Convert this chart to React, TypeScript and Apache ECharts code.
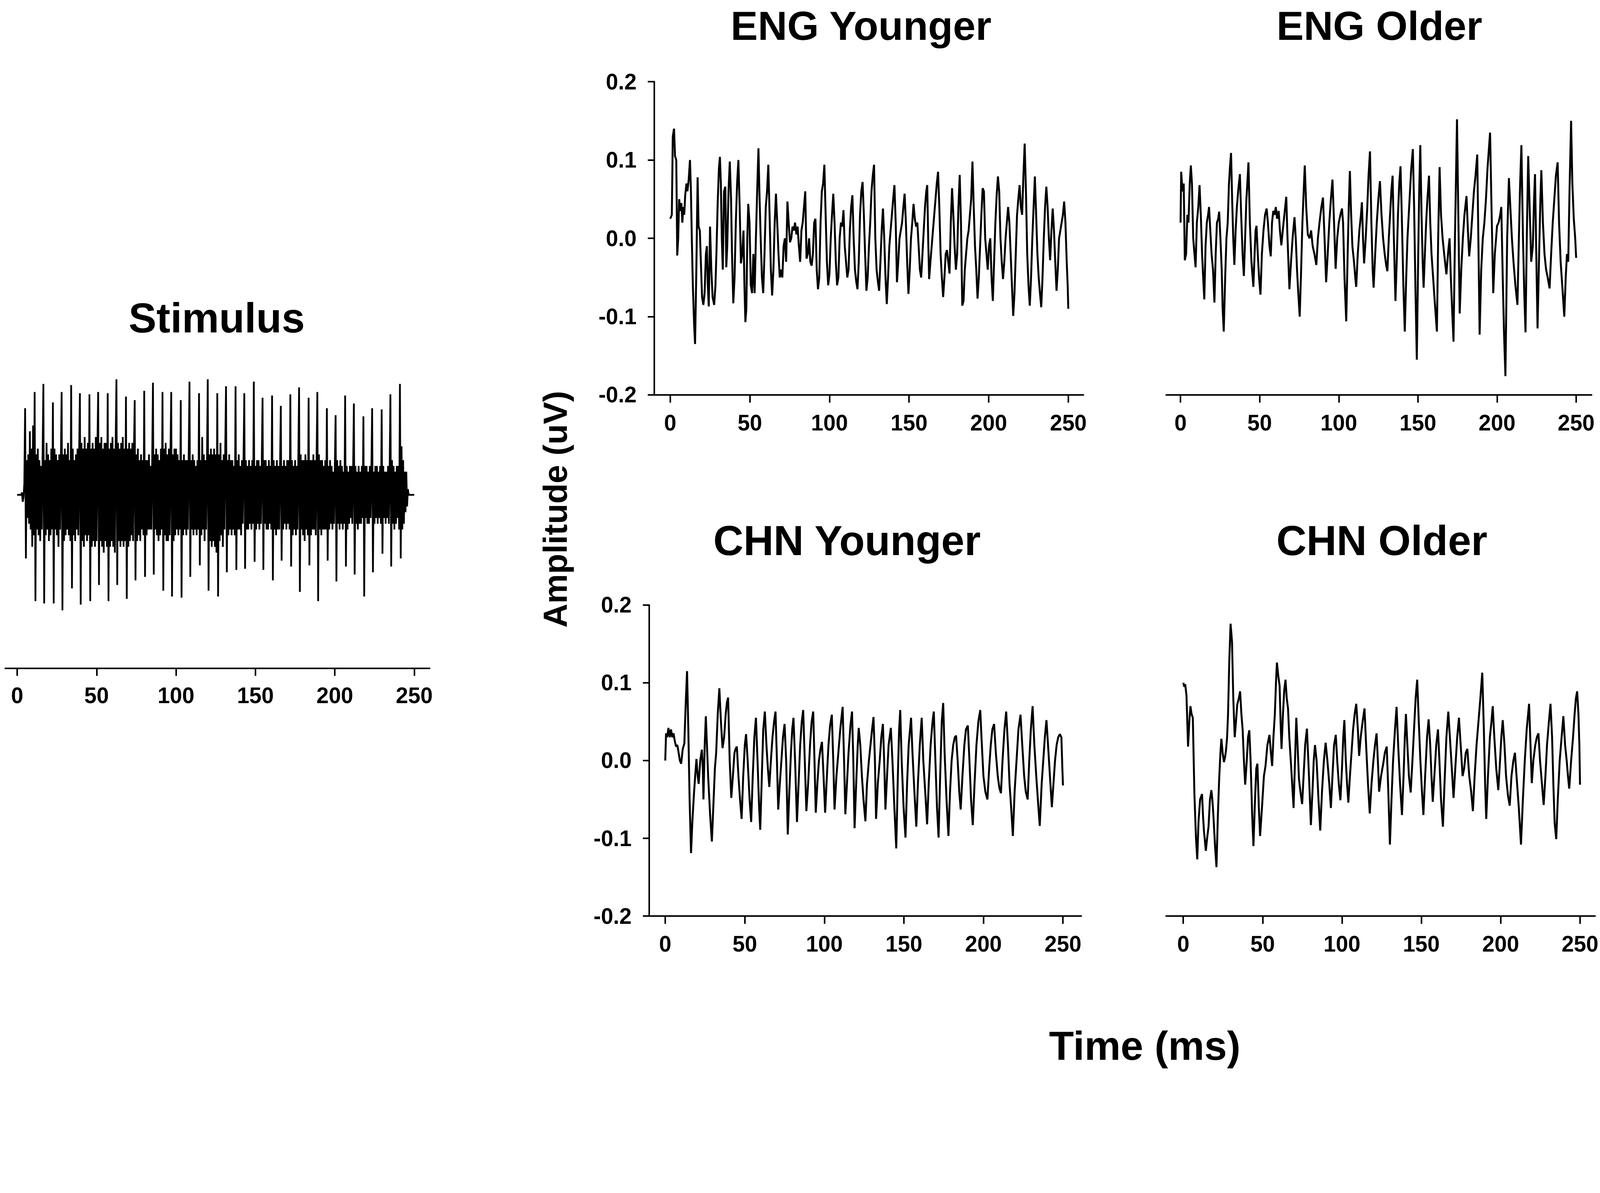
import React, { useEffect, useRef } from "react";
import * as echarts from "echarts";

// reference canvas size (all layout numbers below are in this space and scaled to the viewport)
const W = 4562;
const H = 3054;

// ---------- tick labels ----------
const xTicks = [0, 50, 100, 150, 200, 250];

// ---------- titles ----------
const panelTitles = ["Stimulus", "ENG Younger", "ENG Older", "CHN Younger", "CHN Older"];
const yAxisName = "Amplitude (uV)";
const xAxisName = "Time (ms)";

// ---------- stimulus (normalised amplitude, sampled every 0.5 ms) ----------
const stimulusStepMs = 0.5;
const stimulusValues = [
  0, 0, 0, 0, 0, 0, 0.02, -0.06, -0.02, 0.1,
  0.75, -0.55, 0.3, -0.2, 0.35, -0.25, 0.55, -0.3, 0.4, -0.45, 0.6, -0.35,
  0.89, -0.92, 0.35, -0.3, 0.4, -0.35, 0.3, -0.4, 0.25, -0.3, 0.35,
  0.96, -0.94, 0.3, -0.35, 0.45, -0.3, 0.35, -0.4, 0.3, -0.35, 0.4, -0.3,
  0.8, -0.94, 0.4, -0.3, 0.35, -0.35, 0.3, -0.45, 0.35, -0.3, 0.3,
  0.89, -1.0, 0.35, -0.4, 0.4, -0.35, 0.35, -0.3, 0.45, -0.35, 0.3, -0.4,
  0.95, -0.81, 0.4, -0.35, 0.3, -0.4, 0.35, -0.3, 0.4, -0.35, 0.35,
  0.88, -0.95, 0.45, -0.4, 0.4, -0.45, 0.5, -0.35, 0.4, -0.4, 0.45, -0.35,
  0.87, -0.92, 0.4, -0.45, 0.45, -0.4, 0.4, -0.45, 0.5, -0.4, 0.4,
  0.89, -0.78, 0.45, -0.4, 0.5, -0.45, 0.4, -0.5, 0.45, -0.4, 0.45, -0.45,
  0.88, -0.92, 0.4, -0.45, 0.45, -0.4, 0.5, -0.45, 0.4, -0.5, 0.45,
  1.0, -0.78, 0.45, -0.4, 0.4, -0.45, 0.45, -0.4, 0.5, -0.45, 0.4, -0.4,
  0.85, -0.9, 0.4, -0.45, 0.45, -0.4, 0.4, -0.35, 0.45, -0.4, 0.35,
  0.82, -0.74, 0.35, -0.4, 0.4, -0.35, 0.3, -0.4, 0.35, -0.3, 0.3, -0.35,
  0.9, -0.71, 0.3, -0.35, 0.3, -0.3, 0.35, -0.3, 0.25, -0.3, 0.3,
  0.97, -0.69, 0.35, -0.3, 0.4, -0.35, 0.35, -0.4, 0.3, -0.35, 0.4, -0.3,
  0.89, -0.83, 0.4, -0.35, 0.45, -0.4, 0.35, -0.4, 0.4, -0.35, 0.35,
  0.89, -0.88, 0.35, -0.4, 0.4, -0.35, 0.4, -0.3, 0.35, -0.35, 0.3, -0.3,
  0.82, -0.89, 0.3, -0.35, 0.35, -0.3, 0.3, -0.35, 0.3, -0.3, 0.35,
  0.98, -0.71, 0.3, -0.3, 0.35, -0.35, 0.3, -0.3, 0.25, -0.35, 0.3, -0.3,
  0.88, -0.61, 0.3, -0.35, 0.5, -0.3, 0.35, -0.4, 0.3, -0.3, 0.3,
  1.0, -0.83, 0.35, -0.4, 0.4, -0.45, 0.35, -0.4, 0.4, -0.45, 0.35, -0.5,
  0.88, -0.88, 0.35, -0.4, 0.45, -0.35, 0.3, -0.45, 0.35, -0.3, 0.4,
  0.94, -0.67, 0.3, -0.35, 0.35, -0.3, 0.3, -0.35, 0.3, -0.3, 0.25, -0.35,
  0.94, -0.65, 0.3, -0.3, 0.35, -0.3, 0.25, -0.35, 0.3, -0.25, 0.3,
  0.88, -0.64, 0.3, -0.3, 0.25, -0.3, 0.3, -0.25, 0.25, -0.3, 0.3, -0.25,
  0.98, -0.58, 0.25, -0.3, 0.3, -0.25, 0.3, -0.3, 0.25, -0.25, 0.3,
  0.84, -0.65, 0.3, -0.25, 0.3, -0.3, 0.25, -0.3, 0.3, -0.25, 0.25, -0.3,
  0.86, -0.74, 0.3, -0.3, 0.25, -0.35, 0.3, -0.3, 0.25, -0.3, 0.25,
  0.77, -0.57, 0.25, -0.3, 0.3, -0.25, 0.25, -0.3, 0.3, -0.25, 0.3, -0.3,
  0.87, -0.62, 0.3, -0.35, 0.25, -0.3, 0.3, -0.35, 0.25, -0.3, 0.3,
  0.93, -0.84, 0.35, -0.3, 0.3, -0.35, 0.3, -0.4, 0.35, -0.3, 0.3, -0.35,
  0.84, -0.61, 0.3, -0.35, 0.3, -0.3, 0.35, -0.3, 0.3, -0.35, 0.3,
  0.89, -0.92, 0.35, -0.3, 0.3, -0.35, 0.3, -0.3, 0.25, -0.3, 0.3, -0.3,
  0.75, -0.57, 0.25, -0.3, 0.3, -0.25, 0.25, -0.3, 0.2, -0.25, 0.25,
  0.69, -0.75, 0.3, -0.25, 0.25, -0.3, 0.3, -0.25, 0.25, -0.3, 0.2, -0.25,
  0.86, -0.62, 0.25, -0.3, 0.2, -0.25, 0.25, -0.2, 0.25, -0.25, 0.2,
  0.79, -0.69, 0.25, -0.25, 0.2, -0.3, 0.25, -0.25, 0.2, -0.25, 0.25, -0.2,
  0.68, -0.88, 0.25, -0.2, 0.25, -0.25, 0.2, -0.25, 0.25, -0.2, 0.2,
  0.75, -0.67, 0.2, -0.25, 0.25, -0.2, 0.25, -0.25, 0.2, -0.2, 0.25, -0.25,
  0.74, -0.51, 0.25, -0.2, 0.2, -0.25, 0.2, -0.2, 0.25, -0.25, 0.2,
  0.87, -0.62, 0.3, -0.25, 0.25, -0.3, 0.2, -0.25, 0.25, -0.2, 0.25, -0.3,
  0.96, -0.55, 0.42, -0.3, 0.3, -0.25, 0.2, -0.15, 0.2, -0.1, 0.05,
  0, 0, 0, 0, 0, 0, 0, 0,
];

// ---------- responses: [time ms, amplitude uV] ----------
const engYounger = [[0,0.025],[1,0.03],[1.6,0.13],[2.4,0.14],[3,0.105],[3.8,0.1],[4.4,-0.022],[5,0],[5.6,0.05],[6.4,0.035],[7,0.045],[7.6,0.02],[8.2,0.04],[8.8,0.03],[9.4,0.055],[10.2,0.07],[10.8,0.06],[11.6,0.075],[12.4,0.1],[13,0.06],[13.6,-0.005],[14.2,-0.06],[15,-0.11],[15.6,-0.135],[16.4,-0.04],[17.2,0.078],[17.8,0.015],[18.6,0.01],[19.4,-0.04],[20,-0.075],[20.8,-0.085],[21.6,-0.07],[22.4,-0.02],[23,-0.01],[23.6,-0.06],[24.2,-0.087],[25,0.015],[25.8,-0.04],[26.6,-0.075],[27.6,-0.085],[28.4,-0.06],[29,-0.02],[29.8,0.045],[30.6,0.09],[31.2,0.104],[31.8,0.07],[32.4,0],[33,-0.04],[33.8,0.06],[34.6,0.066],[35.2,-0.037],[35.8,-0.01],[36.6,0.06],[37.4,0.098],[38.2,0.05],[38.8,-0.02],[39.6,-0.083],[40.4,-0.05],[41.2,0.02],[42,0.07],[42.8,0.1],[43.6,0.04],[44.4,-0.032],[45.2,-0.02],[46,0.01],[46.6,-0.06],[47.2,-0.107],[47.8,-0.09],[48.4,0],[49,0.044],[49.8,0.02],[50.6,-0.06],[51.4,-0.07],[52.2,-0.02],[53,-0.07],[53.8,0],[54.6,0.06],[55.4,0.115],[56,0.06],[56.8,0],[57.6,-0.05],[58.4,-0.07],[59.2,-0.02],[60,0.04],[60.8,0.06],[61.6,0.094],[62.4,0.03],[63.2,-0.04],[64,-0.073],[64.8,-0.04],[65.6,0.02],[66.4,0.057],[67.2,0.02],[68,-0.02],[68.8,-0.05],[69.6,-0.04],[70.4,-0.05],[71.2,-0.01],[72,0],[72.8,-0.03],[73.6,0.047],[74.4,0.02],[75.2,-0.005],[76,0],[76.8,0.015],[77.6,0.01],[78.4,0.02],[79.2,0.005],[80,0.015],[80.8,-0.01],[81.6,-0.03],[82.4,0.01],[83.2,0.02],[84,0.04],[84.8,0.06],[85.6,-0.026],[86.4,-0.02],[87.2,0],[88,-0.03],[88.8,-0.035],[89.6,-0.02],[90.4,0.02],[91.2,0.025],[92,-0.04],[92.8,-0.065],[93.6,-0.05],[94.4,0.02],[95.2,0.06],[96,0.07],[96.8,0.094],[97.6,0.03],[98.4,-0.03],[99.2,-0.06],[100,-0.045],[100.8,0],[101.6,0.03],[102.4,0.057],[103.2,0.02],[104,-0.03],[104.8,-0.06],[105.6,-0.05],[106.4,0],[107.2,0.02],[108,0.015],[108.8,0.036],[109.6,-0.01],[110.4,-0.03],[111.2,-0.05],[112,-0.04],[112.8,0.01],[113.6,0.04],[114.4,0.055],[115.2,0],[116,-0.04],[116.8,-0.055],[117.6,-0.065],[118.4,-0.03],[119.2,0.03],[120,0.06],[120.8,0.072],[121.6,0.03],[122.4,-0.02],[123.2,-0.067],[124,-0.05],[124.8,-0.01],[125.6,0.02],[126.4,0.06],[127.2,0.08],[128,0.094],[128.8,0],[129.6,-0.04],[130.4,-0.055],[131.2,-0.067],[132,-0.03],[132.8,0.01],[133.6,0.038],[134.4,0],[135.2,-0.05],[136,-0.084],[136.8,-0.05],[137.6,-0.01],[138.4,0.01],[139.2,0.03],[140,0.05],[140.8,0.068],[141.6,0.02],[142.4,-0.056],[143.2,-0.03],[144,0],[144.8,0.01],[145.6,0.02],[146.4,0.04],[147.2,0.057],[148,0.02],[148.8,-0.03],[149.6,-0.071],[150.4,-0.04],[151.2,0],[152,0.02],[152.8,0.044],[153.6,0.025],[154.4,0.015],[155.2,0.02],[156,-0.01],[156.8,-0.04],[157.6,-0.05],[158.4,-0.02],[159.2,0.01],[160,0.04],[160.8,0.06],[161.4,0.068],[162,0],[162.6,-0.052],[163.4,-0.03],[164.2,-0.01],[165,0.01],[165.8,0.03],[166.6,0.05],[167.4,0.07],[168.2,0.085],[169,0.04],[169.8,-0.02],[170.6,-0.05],[171.4,-0.075],[172.2,-0.05],[173,-0.02],[173.8,-0.015],[174.6,-0.03],[175.4,-0.045],[176.2,0.02],[177,0.064],[177.8,0.03],[178.6,-0.01],[179.4,-0.04],[180.2,-0.02],[181,0.04],[181.8,0.081],[182.6,0.02],[183.4,-0.086],[184.2,-0.08],[185,-0.04],[185.8,-0.02],[186.6,0],[187.4,0.01],[188.2,0.03],[189,0.05],[189.8,0.098],[190.6,0.04],[191.4,-0.01],[192.2,-0.04],[193,-0.077],[193.8,-0.05],[194.6,-0.01],[195.4,0.03],[196.2,0.064],[197,0.06],[197.8,0],[198.6,-0.02],[199.4,-0.04],[200.2,-0.01],[201,0],[201.8,-0.05],[202.6,-0.08],[203.4,-0.03],[204.2,0.02],[205,0.055],[205.8,0.079],[206.6,0.06],[207.4,0],[208.2,-0.03],[209,-0.052],[209.8,-0.03],[210.6,0],[211.4,0.02],[212.2,0.04],[213,0.02],[213.8,-0.02],[214.6,-0.06],[215.4,-0.099],[216.2,-0.07],[217,-0.02],[217.8,0.03],[218.6,0.05],[219.4,0.068],[220.2,0.04],[221,0.03],[221.8,0.08],[222.6,0.121],[223.4,0.06],[224.2,-0.02],[225,-0.06],[225.8,-0.086],[226.6,-0.05],[227.4,0],[228.2,0.04],[229,0.079],[229.8,0.03],[230.6,-0.02],[231.4,-0.05],[232.2,-0.07],[233,-0.088],[233.8,-0.05],[234.6,0],[235.4,0.04],[236.2,0.066],[237,0.04],[237.8,0],[238.6,-0.028],[239.4,0.01],[240.2,0.038],[241,0.01],[241.8,-0.03],[242.6,-0.067],[243.4,-0.04],[244.2,0],[245,0.01],[245.8,0.02],[246.6,0.03],[247.4,0.047],[248.2,0.02],[249,-0.03],[249.6,-0.06],[250,-0.09]];

const engOlder = [[0,0.02],[0.4,0.085],[1.2,0.06],[2,0.07],[2.7,-0.028],[3.5,-0.02],[4.3,0.03],[5,0.02],[5.8,0.07],[6.5,0.093],[7.2,0.07],[8,0],[8.8,-0.02],[9.5,-0.037],[10.3,0.02],[11.2,0.04],[12,0.068],[12.8,0.03],[13.6,-0.02],[14.3,-0.05],[15,-0.078],[15.8,-0.01],[16.6,0.02],[17.4,0.03],[18,0.04],[18.8,0.01],[19.6,-0.02],[20.5,-0.04],[21.4,-0.082],[22.2,-0.02],[23,0.02],[23.8,0.025],[24.4,0.034],[25.2,0],[26,-0.04],[26.6,-0.09],[27.3,-0.119],[28.2,-0.05],[29,0],[29.8,0.02],[30.6,0.07],[31.2,0.09],[31.9,0.109],[32.6,0.05],[33.3,0],[34,-0.034],[34.8,0.01],[35.6,0.04],[36.4,0.06],[37.5,0.082],[38.3,0.03],[39.2,-0.02],[40,-0.048],[40.8,0],[41.6,0.05],[42.2,0.07],[42.9,0.097],[43.8,0.02],[44.8,-0.03],[46,-0.062],[46.8,-0.02],[47.4,0.01],[48,0.016],[48.8,-0.02],[49.6,-0.05],[50.5,-0.072],[51.4,-0.02],[52.4,0.01],[53.4,0.03],[54.4,0.038],[55.2,0.02],[56.2,-0.01],[57,-0.023],[57.8,0.02],[58.6,0.035],[59.4,0.03],[60.2,0.04],[61,0.025],[62,0.035],[62.8,0.01],[63.7,-0.009],[64.6,0.01],[65.6,0.03],[66.8,0.053],[67.6,0],[68.8,-0.065],[69.8,-0.03],[70.8,0],[72,0.027],[72.8,0],[73.6,-0.04],[74.4,-0.07],[75.3,-0.1],[76.2,-0.04],[77,0.02],[77.8,0.06],[78.5,0.093],[79.4,0.04],[80.4,0.005],[81.5,0],[82.5,0.01],[83.5,-0.01],[84.6,-0.02],[85.8,-0.034],[86.8,0],[87.8,0.02],[89,0.04],[90,0.052],[91,0],[92,-0.056],[93,-0.02],[94,0.02],[95,0.05],[96,0.075],[97,0.02],[98,-0.039],[99,0],[100,0.02],[101,0.03],[102,0.038],[102.7,0.02],[103.6,-0.05],[104.7,-0.106],[105.6,-0.02],[106.3,0.04],[107,0.086],[107.8,0.03],[108.6,-0.01],[109.6,-0.03],[110.4,-0.05],[111,-0.062],[112,-0.02],[113,0.01],[114,0.03],[114.6,0.046],[115.3,0],[116,-0.032],[117,0],[118,0.04],[118.8,0.08],[119.7,0.111],[120.6,0.02],[121.4,-0.04],[122,-0.063],[123,-0.02],[124,0.02],[125,0.05],[126,0.073],[127,0.03],[128,0],[129,-0.02],[130,-0.035],[130.7,-0.042],[131.6,0],[132.4,0.03],[133.2,0.06],[134,0.08],[134.8,0],[135.8,-0.08],[136.6,-0.03],[137.4,0.03],[138.2,0.07],[139,0.092],[139.8,0.03],[140.8,-0.06],[141.7,-0.119],[142.6,-0.05],[143.4,0],[144.2,0.03],[145,0.06],[145.8,0.09],[146.8,0.114],[147.6,0.04],[148.4,-0.06],[149.3,-0.155],[150.2,-0.02],[150.8,0.06],[151.5,0.119],[152.3,0.03],[153,-0.03],[153.6,-0.063],[154.4,-0.02],[155.2,0.02],[156,0.05],[157,0.08],[157.8,0.02],[158.6,-0.02],[159.6,-0.05],[160.6,-0.08],[162,-0.119],[162.8,0],[163.7,0.091],[164.6,0.03],[165.6,0],[166.6,-0.02],[168,-0.046],[169,-0.02],[170,0],[170.8,-0.05],[171.6,-0.09],[172.5,-0.132],[173.4,0],[174.7,0.152],[175.6,0.02],[176.4,-0.096],[177.4,-0.04],[178.4,0],[179.4,0.03],[180.7,0.054],[181.6,0.01],[182.4,-0.023],[183.4,0],[184.4,0.03],[185.4,0.06],[186.4,0.08],[187.5,0.107],[188.2,0],[189,-0.123],[190,-0.04],[191,0],[192,0.02],[193,0.05],[194,0.09],[195.6,0.135],[196.6,0.03],[197.6,-0.07],[198.6,-0.02],[199.4,0],[200,0.016],[201,0.02],[202,0.03],[202.7,0.04],[203.6,-0.05],[204.4,-0.12],[205.3,-0.176],[206.4,0],[207.5,0.077],[208.4,0.04],[209.4,0],[210.4,-0.03],[211.6,-0.06],[212.9,-0.085],[213.8,0],[214.6,0.07],[215.4,0.119],[216.4,0],[217.2,-0.07],[218,-0.12],[218.8,0],[219.7,0.105],[220.6,0.04],[221.6,-0.03],[222.6,-0.01],[223.4,0.05],[224,0.082],[224.8,-0.02],[225.6,-0.115],[226.6,-0.02],[227.4,0.05],[228,0.087],[229,0.02],[230,-0.02],[231,-0.04],[232,-0.05],[233.2,-0.064],[234.2,-0.02],[235.2,0.02],[236.2,0.05],[237.2,0.08],[238.3,0.097],[239.2,0.02],[240.2,-0.03],[241.2,-0.06],[242.5,-0.1],[243.4,-0.05],[244.2,-0.02],[245,-0.03],[245.8,0.06],[246.8,0.15],[247.6,0.07],[248.5,0.025],[249.4,0],[250,-0.025]];

const chnYounger = [[0,0],[0.5,0.035],[1.2,0.03],[2,0.042],[2.8,0.03],[3.6,0.04],[4.4,0.03],[5.2,0.035],[6,0.025],[6.8,0.018],[7.6,0.02],[8.4,0.01],[9.2,0],[10,-0.004],[11,0.015],[12,0.022],[12.8,0.07],[13.7,0.115],[14.5,0.04],[15.3,-0.05],[16.2,-0.119],[17,-0.08],[18,-0.044],[18.8,-0.02],[19.6,0.002],[20.4,-0.02],[21,-0.03],[22,0],[23,0.014],[23.6,-0.01],[24,-0.05],[24.8,0.02],[25.5,0.057],[26.2,0.02],[27,-0.022],[28.2,-0.07],[29.3,-0.104],[30.4,-0.05],[31.2,-0.01],[32,0.01],[33,0.06],[34,0.093],[35,0.05],[36,0.016],[37,0.03],[38,0.06],[38.8,0.075],[39.5,0.081],[40.5,0],[41.5,-0.048],[42.5,-0.02],[43.5,0.01],[44.2,0.015],[45,0.018],[46,-0.02],[47,-0.05],[48,-0.075],[49,-0.02],[50,0.02],[50.8,0.034],[51.8,0],[53,-0.05],[54,-0.079],[55,-0.02],[56,0.03],[57,0.055],[58,0],[59,-0.06],[59.7,-0.089],[60.7,-0.02],[61.6,0.04],[62.6,0.063],[63.6,0.02],[64.5,-0.01],[65.4,-0.034],[66.4,0],[67.4,0.03],[68.4,0.05],[69.3,0.063],[70.2,0],[71,-0.063],[72,-0.03],[73,0],[74,0.03],[75,0.047],[76,0],[77,-0.095],[78,-0.04],[79,0.01],[79.8,0.04],[80.6,0.055],[81.6,0],[82.8,-0.079],[83.8,-0.03],[84.8,0.02],[85.8,0.05],[86.7,0.065],[87.7,0],[88.7,-0.065],[89.8,-0.03],[91,0.02],[92,0.05],[93,0.063],[93.8,0],[94.6,-0.067],[95.6,-0.03],[96.6,0],[97.6,0.015],[98.5,0.024],[99.5,-0.02],[100.5,-0.067],[101.6,-0.02],[102.6,0.02],[103.6,0.045],[104.7,0.059],[105.6,0],[106.4,-0.063],[107.6,-0.02],[108.8,0.01],[110,0.04],[111.5,0.069],[112.4,0],[113.2,-0.069],[114.2,-0.03],[115.2,0.01],[116.4,0.045],[117.4,0.063],[118.2,0],[119,-0.087],[120,-0.03],[121,0.02],[121.6,0.042],[122.6,0.02],[123.6,-0.02],[124.6,-0.05],[125.8,-0.078],[126.8,-0.03],[128,0],[129,0.02],[130,0.04],[130.9,0.056],[131.8,0],[132.5,-0.075],[133.6,-0.03],[134.8,0],[135.8,0.03],[136.8,0.047],[137.6,0],[138.4,-0.063],[139.4,-0.02],[140.4,0.02],[141.8,0.042],[142.8,0],[144,-0.06],[145.2,-0.113],[146.2,-0.02],[147,0.04],[147.7,0.065],[148.6,0],[149.8,-0.06],[151,-0.099],[152,-0.03],[153,0.02],[154.5,0.055],[155.4,0.01],[156.6,-0.04],[157.8,-0.085],[158.8,-0.03],[160,0.02],[161.2,0.055],[162.2,0],[163.4,-0.04],[164.6,-0.082],[165.6,-0.03],[166.8,0.02],[168,0.05],[168.8,0.063],[169.8,0],[170.8,-0.06],[171.8,-0.099],[172.8,-0.02],[173.8,0.05],[174.7,0.074],[175.6,0.01],[176.8,-0.05],[178,-0.097],[179,-0.04],[180,0],[181,0.02],[182,0.03],[182.8,0.032],[183.8,0],[184.8,-0.04],[185.7,-0.063],[186.8,-0.02],[188,0.02],[189,0.04],[190.2,0.045],[191.2,0],[192.2,-0.05],[193.3,-0.083],[194.4,-0.03],[195.6,0.02],[196.8,0.05],[198,0.065],[199,0.02],[200,-0.02],[201.2,-0.04],[202.5,-0.05],[203.6,-0.01],[204.6,0.02],[205.6,0.04],[206.7,0.047],[207.8,0.01],[209,-0.02],[210,-0.035],[211,-0.042],[212,0],[213.2,0.04],[214.3,0.063],[215.4,0.02],[216.4,-0.03],[217.4,-0.06],[218.5,-0.097],[219.6,-0.04],[220.8,0],[222,0.04],[223.3,0.059],[224.4,0.02],[225.6,-0.02],[226.6,-0.04],[227.8,-0.05],[228.8,0],[229.8,0.04],[230.9,0.07],[232,0.02],[233.2,-0.02],[234.2,-0.05],[235.4,-0.084],[236.6,-0.03],[237.6,0],[238.6,0.03],[239.6,0.052],[240.6,0.02],[241.8,-0.02],[243,-0.06],[244,-0.03],[245,0],[246,0.02],[247,0.03],[248,0.034],[249,0.03],[249.6,-0.01],[250,-0.032]];

const chnOlder = [[0,0.1],[0.6,0.095],[1.2,0.098],[2,0.084],[3,0.018],[3.8,0.05],[4.5,0.07],[5.2,0.06],[6,0.055],[7,-0.043],[8,-0.1],[8.8,-0.127],[9.6,-0.078],[10.6,-0.05],[11.8,-0.043],[12.4,-0.07],[13,-0.09],[14.2,-0.116],[15,-0.1],[15.9,-0.085],[16.8,-0.05],[17.7,-0.038],[18.3,-0.05],[18.9,-0.068],[20,-0.11],[20.9,-0.137],[21.8,-0.07],[22.6,-0.024],[23.4,0.01],[24,0.028],[24.8,0.01],[25.6,-0.002],[26.4,0.005],[27,0.015],[27.6,0.03],[28.2,0.06],[29,0.13],[29.8,0.176],[30.7,0.153],[31.5,0.08],[32.4,0.03],[33.2,0.05],[34,0.072],[35,0.08],[35.8,0.089],[36.6,0.06],[37.4,0.04],[38.2,0],[39,-0.031],[40,0],[40.8,0.03],[41.6,0.039],[42.4,0],[43.4,-0.07],[44.2,-0.11],[45.2,-0.05],[46,-0.01],[46.7,-0.004],[47.6,-0.06],[48.4,-0.097],[49.6,-0.06],[50.8,-0.02],[51.8,-0.007],[53,0.02],[54.3,0.033],[55.2,0.01],[56,-0.007],[56.8,0.03],[57.7,0.06],[58.4,0.1],[59,0.126],[59.8,0.11],[60.7,0.096],[61.3,0.05],[61.9,0.015],[62.8,0.06],[63.6,0.09],[64.4,0.104],[65.2,0.08],[66,0.067],[66.8,0.03],[67.8,-0.002],[68.6,-0.03],[69.5,-0.061],[70.4,0],[71.2,0.055],[72,0.02],[72.9,-0.024],[73.8,-0.04],[74.9,-0.056],[75.8,-0.02],[76.8,0.02],[77.9,0.041],[78.8,0],[79.6,-0.04],[80.4,-0.083],[81.4,-0.04],[82.2,0],[83,0.02],[84,0],[85.2,-0.05],[86.3,-0.09],[87.4,-0.04],[88.6,0],[89.7,0.023],[90.8,0],[92,-0.03],[93,-0.061],[94,-0.02],[95,0.02],[96.1,0.033],[97,0],[98,-0.03],[99,-0.051],[100,-0.01],[100.8,0.03],[101.5,0.052],[102.4,0],[103.2,-0.03],[104,-0.054],[105,-0.02],[106,0.01],[107,0.04],[108,0.06],[109,0.073],[110,0.04],[110.8,0.006],[111.8,0.03],[113,0.05],[114.2,0.067],[115.2,0.02],[116.4,-0.03],[117.5,-0.068],[118.6,-0.03],[119.8,0],[120.8,0.02],[121.8,0.035],[122.6,0],[123.4,-0.04],[124.6,-0.02],[126,-0.004],[127,0.01],[128.2,0.018],[129.2,-0.04],[130.2,-0.108],[131.2,-0.05],[132.2,0],[133.4,0.04],[134.4,0.069],[135.4,0.02],[136.6,-0.03],[137.8,-0.07],[138.8,-0.02],[139.6,0.03],[140.3,0.06],[141.2,0.02],[142.2,-0.02],[143.3,-0.041],[144.4,0],[145.4,0.04],[146.4,0.08],[147.4,0.104],[148.4,0.05],[149.4,0],[150.4,-0.04],[151.3,-0.07],[152.4,-0.02],[153.6,0.03],[154.6,0.053],[155.6,0.02],[156.4,-0.02],[157.2,-0.053],[158.2,-0.02],[159.4,0.02],[160.5,0.04],[161.4,0],[162.4,-0.05],[163.6,-0.085],[164.6,-0.03],[165.8,0.03],[167,0.063],[168,0.03],[169.2,-0.01],[170.3,-0.048],[171.4,-0.01],[172.6,0.03],[173.7,0.055],[174.8,0.02],[176,-0.02],[177,-0.01],[178,0.01],[179,0.015],[180.2,-0.02],[181.4,-0.04],[182.5,-0.065],[183.6,-0.02],[184.8,0.02],[186,0.05],[187.2,0.08],[188.4,0.113],[189.4,0.04],[190.2,-0.03],[190.9,-0.075],[192,-0.02],[193.2,0.03],[194.2,0.05],[195,0.07],[196,0.03],[197.2,-0.01],[198.5,-0.038],[199.6,0],[200.4,0.03],[201.3,0.052],[202.4,0.02],[203.4,-0.02],[204.6,-0.045],[205.7,-0.058],[206.8,-0.02],[208,0],[209,0.01],[210,-0.02],[211.4,-0.06],[212.8,-0.108],[214,-0.05],[215.2,0],[216.4,0.04],[217.9,0.073],[218.8,0.02],[219.6,-0.029],[220.6,0],[221.8,0.02],[222.8,0.03],[223.8,0.035],[224.8,0],[226,-0.03],[227.1,-0.057],[228.2,-0.02],[229.2,0.02],[230.4,0.05],[231.4,0.073],[232.4,0.03],[233.2,-0.03],[234,-0.08],[235,-0.101],[236,-0.05],[237.2,0],[238.4,0.03],[239.5,0.057],[240.6,0.02],[241.6,0],[242.4,-0.02],[243.2,-0.036],[244.4,0],[245.6,0.03],[246.6,0.06],[247.4,0.08],[248.2,0.089],[249,0.06],[249.6,0.02],[250,-0.031]];

const TITLE_FONT = "'Liberation Sans', Arial, Helvetica, sans-serif";
const TICK_FONT = "'Liberation Sans Narrow', 'Arial Narrow', 'Liberation Sans', Arial, sans-serif";

export default function App() {
  const ref = useRef<HTMLDivElement>(null);

  useEffect(() => {
    if (!ref.current) return;
    const vw = window.innerWidth || W;
    const vh = window.innerHeight || H;
    const s = Math.min(vw / W, vh / H);
    const p = (v: number) => v * s;
    const cw = Math.floor(W * s);
    const ch = Math.floor(H * s);
    ref.current.style.width = cw + "px";
    ref.current.style.height = ch + "px";

    const chart = echarts.init(ref.current, undefined, { renderer: "svg", width: cw, height: ch });

    const stimulusData = stimulusValues.map((v, i) => [i * stimulusStepMs, v]);

    const gridBoxes = [
      [15, 1065, 1210, 840],   // stimulus
      [1865, 233, 1224, 893],  // ENG younger
      [3325, 233, 1213, 893],  // ENG older
      [1851, 1725, 1232, 887], // CHN younger
      [3325, 1725, 1223, 887], // CHN older
    ];
    const grids = gridBoxes.map((g) => ({
      left: p(g[0]),
      top: p(g[1]),
      width: p(g[2]),
      height: p(g[3]),
      containLabel: false,
      outerBoundsMode: "none",
    }));

    const xRanges = [
      [-7.5, 259.7],
      [-10.13, 259.47],
      [-9.1, 259.75],
      [-10.1, 261.5],
      [-10.8, 259.5],
    ];

    const axisLineStyle = { color: "#000", width: p(4.5) };
    const labelStyle = {
      color: "#000",
      fontSize: p(63),
      fontWeight: "bold",
      fontFamily: TICK_FONT,
    };

    const xAxis = xRanges.map((r, i) => ({
      type: "value",
      gridIndex: i,
      min: r[0],
      max: r[1],
      axisLine: { show: true, onZero: false, lineStyle: axisLineStyle },
      axisTick: { show: true, customValues: xTicks, length: p(22), lineStyle: axisLineStyle },
      axisLabel: { ...labelStyle, customValues: xTicks, margin: p(i === 0 ? 46 : 48) },
      splitLine: { show: false },
    }));

    const yVisible = (i: number) => ({
      type: "value",
      gridIndex: i,
      min: -0.2,
      max: 0.2,
      interval: 0.1,
      axisLine: { show: true, onZero: false, lineStyle: axisLineStyle },
      axisTick: { show: true, length: p(18), lineStyle: axisLineStyle },
      axisLabel: {
        ...labelStyle,
        margin: p(50),
        formatter: (v: number) => v.toFixed(1),
      },
      splitLine: { show: false },
    });
    const yHidden = (i: number, min: number, max: number) => ({
      type: "value",
      gridIndex: i,
      min,
      max,
      show: false,
      splitLine: { show: false },
    });

    const yAxis = [
      yHidden(0, -1.5, 1.05),
      yVisible(1),
      yHidden(2, -0.2, 0.2),
      yVisible(3),
      yHidden(4, -0.2, 0.2),
    ];

    const lineSeries = (idx: number, data: number[][], width: number) => ({
      type: "line",
      xAxisIndex: idx,
      yAxisIndex: idx,
      data,
      showSymbol: false,
      symbol: "none",
      silent: true,
      lineStyle: { color: "#000", width: p(width) },
      z: 2,
    });

    const series = [
      lineSeries(0, stimulusData, 5),
      lineSeries(1, engYounger, 5.5),
      lineSeries(2, engOlder, 5.5),
      lineSeries(3, chnYounger, 5.5),
      lineSeries(4, chnOlder, 5.5),
    ];

    // [x, y, fontSize] of each panel title (centre of the text)
    const titlePos = [
      [618, 907, 119],
      [2455, 74, 116],
      [3933, 74, 116],
      [2415, 1542, 119],
      [3940, 1542, 119],
    ];

    const mkText = (text: string, x: number, y: number, size: number, rotation = 0) => ({
      type: "text",
      x: p(x),
      y: p(y),
      rotation,
      silent: true,
      style: {
        text,
        font: `bold ${p(size)}px ${TITLE_FONT}`,
        fill: "#000",
        align: "center",
        verticalAlign: "middle",
      },
    });

    const graphic: any[] = panelTitles.map((t, i) => mkText(t, titlePos[i][0], titlePos[i][1], titlePos[i][2]));
    graphic.push(mkText(yAxisName, 1583, 1452, 95, Math.PI / 2));
    graphic.push(mkText(xAxisName, 3264, 2982, 116));

    chart.setOption({
      animation: false,
      backgroundColor: "#fff",
      grid: grids,
      xAxis,
      yAxis,
      series,
      graphic,
    });

    return () => chart.dispose();
  }, []);

  return (
    <div
      ref={ref}
      style={{ position: "fixed", left: 0, top: 0, width: 100, height: 100, background: "#fff" }}
    />
  );
}
